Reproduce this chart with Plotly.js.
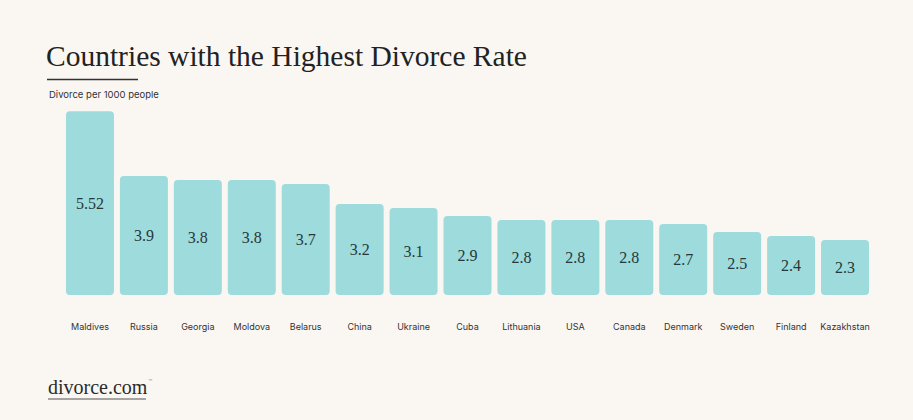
<!DOCTYPE html>
<html>
<head>
<meta charset="utf-8">
<script src="https://cdn.plot.ly/plotly-3.0.1.min.js"></script>
<style>
  html, body { margin: 0; padding: 0; background: #faf7f3; }
  #chart { width: 913px; height: 420px; }
</style>
</head>
<body>
<div id="chart"></div>
<script>
const countries = ["Maldives", "Russia", "Georgia", "Moldova", "Belarus", "China", "Ukraine", "Cuba", "Lithuania", "USA", "Canada", "Denmark", "Sweden", "Finland", "Kazakhstan"];
const divorceRate = [5.52, 3.9, 3.8, 3.8, 3.7, 3.2, 3.1, 2.9, 2.8, 2.8, 2.8, 2.7, 2.5, 2.4, 2.3];
const valueLabels = ["5.52", "3.9", "3.8", "3.8", "3.7", "3.2", "3.1", "2.9", "2.8", "2.8", "2.8", "2.7", "2.5", "2.4", "2.3"];

const W = 913, H = 420;
const L = 63, R = 41, T = 105, B = 125;
const pw = W - L - R, ph = H - T - B;
const px = x => (x - L) / pw;
const py = y => (H - B - y) / ph;

// visual baseline of the infographic (bars start here, not at 0)
const AXIS_FLOOR = 0.925;

const trace = {
  type: "bar",
  x: countries,
  base: AXIS_FLOOR,
  y: divorceRate.map(v => v - AXIS_FLOOR),
  customdata: divorceRate,
  text: valueLabels,
  texttemplate: "%{text}",
  textposition: "inside",
  insidetextanchor: "middle",
  textangle: 0,
  textfont: { family: "Liberation Serif, DejaVu Serif, serif", size: 16, color: "#263838" },
  marker: { color: "#9edbdc", cornerradius: 4, line: { width: 0 } },
  hovertemplate: "%{x}: %{customdata}<extra></extra>"
};

const layout = {
  width: W, height: H,
  margin: { l: L, r: R, t: T, b: B },
  paper_bgcolor: "#faf7f3",
  plot_bgcolor: "#faf7f3",
  showlegend: false,
  bargap: 0.11,
  title: {
    text: "Countries with the Highest Divorce Rate",
    font: { family: "Liberation Serif, DejaVu Serif, serif", size: 29.5, color: "#222222" },
    xref: "container", x: 46 / W, xanchor: "left",
    yref: "container", y: 1 - 56 / H, yanchor: "middle"
  },
  xaxis: {
    showgrid: false, zeroline: false, showline: false,
    ticks: "outside", ticklen: 23, tickcolor: "rgba(0,0,0,0)",
    tickfont: { family: "Inter, Roboto, sans-serif", size: 9, color: "#333333" },
    fixedrange: true
  },
  yaxis: {
    visible: false, range: [AXIS_FLOOR, AXIS_FLOOR + ph / 40], fixedrange: true
  },
  shapes: [
    { type: "line", xref: "paper", yref: "paper", x0: px(47), x1: px(138), y0: py(79.5), y1: py(79.5),
      line: { color: "#333333", width: 1.5 } },
    { type: "line", xref: "paper", yref: "paper", x0: px(48), x1: px(146), y0: py(399), y1: py(399),
      line: { color: "#888888", width: 1.5 } }
  ],
  annotations: [
    { text: "Divorce per 1000 people", xref: "paper", yref: "paper", x: px(47), y: py(94),
      xanchor: "left", yanchor: "middle", showarrow: false,
      font: { family: "Inter, Roboto, sans-serif", size: 9.5, color: "#333333" } },
    { text: "divorce.com", xref: "paper", yref: "paper", x: px(46), y: py(387),
      xanchor: "left", yanchor: "middle", showarrow: false,
      font: { family: "Liberation Serif, DejaVu Serif, serif", size: 20, color: "#2a2a2a" } },
    { text: "™", xref: "paper", yref: "paper", x: px(146), y: py(381),
      xanchor: "left", yanchor: "middle", showarrow: false,
      font: { family: "DejaVu Sans, sans-serif", size: 5, color: "#777777" } }
  ]
};

Plotly.newPlot("chart", [trace], layout, { displayModeBar: false, staticPlot: true });
</script>
</body>
</html>
